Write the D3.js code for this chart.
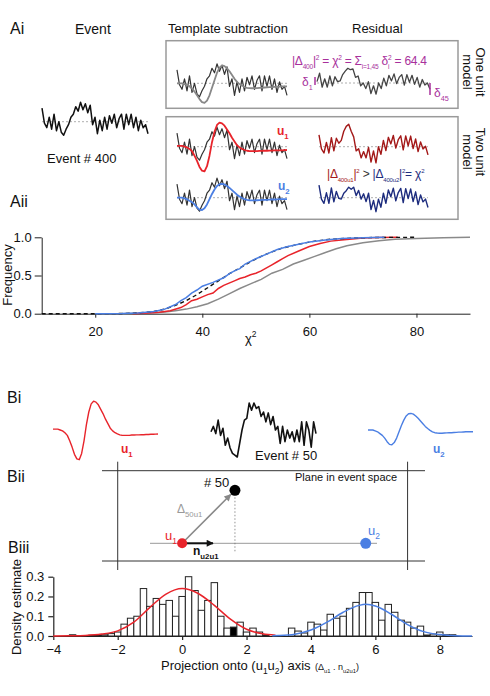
<!DOCTYPE html>
<html>
<head>
<meta charset="utf-8">
<script src="https://cdn.jsdelivr.net/npm/d3@7"></script>
<style>
  body { margin: 0; background: #fff; }
  svg { font-family: Arial, "Liberation Sans", sans-serif; }
  text { white-space: pre; }
</style>
</head>
<body>
<svg id="fig" width="490" height="696"></svg>
<script>
// ---- traces (45 samples each) ----
const event400 = [0.9, -0.1, -0.4, 0.3, -0.5, 0.5, -0.6, 0.0, -0.7, -0.9, -0.5, -0.2, 0.3, 0.5, 1.0, 0.7, 1.3, 0.8, 1.2, 0.6, 1.1, -0.2, 0.3, -0.8, 0.1, -0.6, 0.3, -0.5, 0.4, -0.1, 0.5, -0.4, 0.2, 0.5, -0.5, 0.5, -0.2, 0.5, -0.4, 0.3, -0.6, 0.1, -0.4, -0.2, -0.8];
const templateOne = [0, 0, 0, -0.05, -0.1, -0.2, -0.35, -0.55, -0.8, -1.05, -1.25, -1.3, -1.15, -0.8, -0.3, 0.2, 0.7, 1.05, 1.2, 1.15, 1.0, 0.8, 0.55, 0.3, 0.1, -0.05, -0.15, -0.25, -0.3, -0.32, -0.33, -0.33, -0.32, -0.3, -0.3, -0.28, -0.27, -0.26, -0.25, -0.24, -0.23, -0.22, -0.2, -0.2, -0.2];
const templateU1 = [0.05, 0.05, 0.05, 0, -0.05, -0.15, -0.3, -0.6, -0.95, -1.35, -1.6, -1.65, -1.3, -0.6, 0.3, 1.0, 1.45, 1.6, 1.55, 1.4, 1.15, 0.9, 0.6, 0.35, 0.1, -0.05, -0.15, -0.22, -0.27, -0.3, -0.3, -0.3, -0.3, -0.28, -0.28, -0.27, -0.27, -0.26, -0.26, -0.25, -0.25, -0.24, -0.24, -0.23, -0.22];
const templateU2 = [0, 0, 0, -0.05, -0.1, -0.2, -0.3, -0.45, -0.65, -0.8, -0.82, -0.7, -0.45, -0.1, 0.25, 0.55, 0.78, 0.9, 0.92, 0.88, 0.78, 0.65, 0.5, 0.35, 0.2, 0.08, -0.02, -0.1, -0.15, -0.17, -0.18, -0.18, -0.17, -0.16, -0.15, -0.15, -0.14, -0.13, -0.12, -0.12, -0.11, -0.1, -0.1, -0.1, -0.1];
const residualOne = [0.1, 0.7, -0.3, 0.3, -0.3, 0.5, -0.2, 0.45, 0.1, 0.15, 0.6, 0.85, 1.05, 0.95, 1.0, 0.4, 0.5, -0.2, 0.0, -0.4, 0.1, -0.75, -0.2, -0.8, 0.0, -0.4, 0.35, -0.2, 0.55, 0.15, 0.65, -0.05, 0.4, 0.6, -0.15, 0.6, 0.05, 0.55, -0.1, 0.4, -0.3, 0.25, -0.15, 0.0, -0.45];
const residualU1 = [0.85, -0.15, -0.45, 0.3, -0.45, 0.65, -0.3, 0.6, 0.25, 0.45, 1.1, 1.45, 1.6, 1.1, 0.7, -0.3, -0.15, -0.8, -0.35, -0.8, -0.05, -1.1, -0.3, -1.15, 0.0, -0.55, 0.45, -0.28, 0.67, 0.2, 0.8, -0.1, 0.5, 0.78, -0.22, 0.77, 0.07, 0.76, -0.14, 0.55, -0.35, 0.34, -0.16, 0.03, -0.58];
const residualU2 = [0.9, -0.1, -0.4, 0.35, -0.4, 0.7, -0.3, 0.45, -0.05, -0.1, 0.32, 0.5, 0.75, 0.6, 0.75, 0.15, 0.52, -0.1, 0.28, -0.28, 0.32, -0.85, -0.2, -1.0, -0.1, -0.68, 0.32, -0.4, 0.55, 0.07, 0.68, -0.22, 0.37, 0.66, -0.35, 0.65, -0.06, 0.63, -0.28, 0.42, -0.49, 0.2, -0.3, -0.1, -0.7];
const event50 = [-0.1, 0.2, -0.2, 0.55, -0.3, 0.1, -0.85, -0.45, -1.0, -1.3, -1.4, -1.5, -0.75, 0, 0.55, 0.65, 1.5, 1.1, 1.5, 1.2, 1.3, 0.75, 1.0, 0.45, 0.95, 0.3, 0.75, 0, 0.2, -0.75, 0.2, -0.65, 0, -0.45, -0.1, -0.65, 0, -0.65, 0.45, -0.85, 0.45, 0, -0.95, 0.45, -0.2];

// ---- Aii cumulative distributions of chi^2 ----
const grayChi = [25, 28, 31, 33, 35, 37, 39, 41, 43, 45, 47, 49, 51, 53, 55, 57, 59, 61, 63, 65, 67, 70, 73, 76, 80, 85, 90];
const grayFreq = [0, 0.005, 0.012, 0.022, 0.04, 0.06, 0.09, 0.13, 0.19, 0.26, 0.33, 0.39, 0.45, 0.53, 0.58, 0.65, 0.70, 0.75, 0.80, 0.85, 0.89, 0.93, 0.955, 0.975, 0.985, 0.995, 1.0];
const redChi = [27, 30, 32, 34, 36, 37, 38, 39, 40, 41, 42, 43, 44, 45, 46, 47, 48, 49, 50, 51, 52, 53, 54, 55, 56, 58, 60, 62, 64, 67, 70, 73, 76.5];
const redFreq = [0, 0.01, 0.02, 0.04, 0.08, 0.12, 0.17, 0.19, 0.22, 0.25, 0.27, 0.33, 0.37, 0.40, 0.43, 0.46, 0.48, 0.51, 0.53, 0.56, 0.60, 0.64, 0.68, 0.72, 0.76, 0.82, 0.88, 0.92, 0.95, 0.97, 0.99, 0.998, 1.0];
const blueChi = [20, 25, 28, 31, 33, 35, 36, 37, 38, 39, 40, 42, 44, 45, 46, 47, 48, 50, 52, 54, 56, 58, 60, 63, 66, 70, 74];
const blueFreq = [0, 0.002, 0.01, 0.03, 0.06, 0.12, 0.17, 0.21, 0.27, 0.31, 0.36, 0.41, 0.47, 0.52, 0.56, 0.59, 0.65, 0.72, 0.78, 0.84, 0.88, 0.91, 0.94, 0.965, 0.985, 0.995, 1.0];
const theoChi = [10, 20, 25, 28, 31, 33, 35, 37, 39, 41, 43, 45, 47, 49, 51, 53, 55, 58, 61, 64, 68, 72, 76, 80];
const theoFreq = [0, 0, 0.002, 0.01, 0.03, 0.06, 0.11, 0.17, 0.25, 0.34, 0.43, 0.52, 0.60, 0.68, 0.75, 0.81, 0.86, 0.91, 0.95, 0.975, 0.99, 0.997, 0.999, 1.0];
const chiTicks = [20, 40, 60, 80];
const freqTicks = [0, 0.5, 1.0];

// ---- Biii histogram of projections ----
const binCenters = [-3.4, -2.8, -2.6, -2.4, -2.2, -2.0, -1.8, -1.6, -1.4, -1.2, -1.0, -0.8, -0.6, -0.4, -0.2, 0.0, 0.2, 0.4, 0.6, 0.8, 1.0, 1.2, 1.4, 1.6, 1.8, 2.0, 2.2, 2.4, 2.6, 3.4, 3.6, 3.8, 4.0, 4.2, 4.4, 4.6, 4.8, 5.0, 5.2, 5.4, 5.6, 5.8, 6.0, 6.2, 6.4, 6.6, 6.8, 7.0, 7.2, 7.4, 7.6, 7.8, 8.0, 8.2, 8.4];
const binDensity = [0.006, 0.004, 0.004, 0.006, 0.012, 0.02, 0.06, 0.09, 0.10, 0.24, 0.15, 0.19, 0.16, 0.18, 0.10, 0.20, 0.30, 0.23, 0.13, 0.18, 0.27, 0.10, 0.04, 0.045, 0.07, 0.02, 0.04, 0.02, 0.005, 0.04, 0.025, 0.015, 0.07, 0.06, 0.03, 0.11, 0.09, 0.10, 0.14, 0.17, 0.22, 0.22, 0.17, 0.08, 0.16, 0.12, 0.08, 0.07, 0.04, 0.05, 0.005, 0.01, 0.02, 0.006, 0.006];
const filledBins = [-3.4, 1.6, 8.2, 8.4];
const fitU1X = [-4, -3.5, -3, -2.5, -2, -1.5, -1, -0.5, 0, 0.5, 1, 1.5, 2, 2.5, 2.9];
const fitU1Y = [0, 0.0008, 0.003, 0.01, 0.026, 0.07, 0.145, 0.212, 0.24, 0.215, 0.155, 0.085, 0.034, 0.011, 0.004];
const fitU2X = [2.8, 3.0, 3.5, 4.0, 4.5, 5.0, 5.5, 5.7, 6.0, 6.5, 7.0, 7.5, 8.0, 8.5, 9.0];
const fitU2Y = [0.001, 0.002, 0.009, 0.03, 0.07, 0.12, 0.155, 0.16, 0.152, 0.11, 0.058, 0.022, 0.007, 0.0015, 0.0003];
const projTicks = [-4, -2, 0, 2, 4, 6, 8];
const densityTicks = [0, 0.1, 0.2, 0.3];

// ---- Bii points on the u1-u2 axis ----
const proj50 = 1.64;
const projU1 = 0;
const projU2 = 5.7;

const RED = '#e8242b', BLUE = '#4b7fe3', GRAY = '#8c8c8c', MAG = '#a8309c', DRED = '#a31818', NAVY = '#1d2c7e';

const svg = d3.select('#fig');

function trace(vals, x0, x1, base, k, color, w) {
  const xs = d3.scaleLinear().domain([0, vals.length - 1]).range([x0, x1]);
  const ys = d3.scaleLinear().domain([-1, 1]).range([base + k, base - k]);
  svg.append('path').datum(vals)
    .attr('d', d3.line().x((d, i) => xs(i)).y(d => ys(d)))
    .attr('fill', 'none').attr('stroke', color).attr('stroke-width', w)
    .attr('stroke-linejoin', 'round');
}
function zeroLine(x0, x1, y) {
  svg.append('line').attr('x1', x0).attr('x2', x1).attr('y1', y).attr('y2', y)
    .attr('stroke', '#999').attr('stroke-width', 0.8).attr('stroke-dasharray', '2,2');
}
function label(x, y, str, size, opts) {
  opts = opts || {};
  return svg.append('text').attr('x', x).attr('y', y).attr('font-size', size)
    .attr('fill', opts.fill || '#111').attr('font-weight', opts.weight || 'normal')
    .attr('text-anchor', opts.anchor || 'start').text(str);
}
// text with sub / superscript parts
function rich(x, y, parts, size, color, weight, subScale, spacing) {
  subScale = subScale || 0.65;
  const t = svg.append('text').attr('x', x).attr('y', y).attr('font-size', size)
    .attr('fill', color).attr('font-weight', weight || 'normal')
    .attr('letter-spacing', spacing || null);
  let off = 0;
  parts.forEach(p => {
    const pos = p[1];
    const target = pos === 'sub' ? size * 0.3 : pos === 'sup' ? -size * 0.45 : 0;
    const ts = t.append('tspan').attr('dy', target - off).text(p[0]);
    if (pos) ts.attr('font-size', size * subScale);
    if (p[2]) ts.attr('fill', p[2]);
    if (p[3]) ts.attr('dx', p[3]);
    off = target;
  });
  return t;
}

// ===================== Ai =====================
label(10, 34, 'Ai', 16);
label(75, 34, 'Event', 14);
label(168, 33, 'Template subtraction', 13);
label(352, 33, 'Residual', 13);

zeroLine(42, 148, 121.7);
trace(event400, 42, 148, 121.7, 15, '#111', 1.5);
label(47, 163, 'Event # 400', 13);

svg.append('rect').attr('x', 166).attr('y', 40.7).attr('width', 292).attr('height', 67.6)
  .attr('fill', 'none').attr('stroke', '#9a9a9a').attr('stroke-width', 1.5);
svg.append('rect').attr('x', 166).attr('y', 116.7).attr('width', 292).attr('height', 102.6)
  .attr('fill', 'none').attr('stroke', '#9a9a9a').attr('stroke-width', 1.5);

[['One unit', 476, 72], ['model', 463, 72], ['Two unit', 476, 152], ['model', 463, 152]].forEach(d => {
  svg.append('text').attr('transform', `translate(${d[1]},${d[2]}) rotate(90)`)
    .attr('text-anchor', 'middle').attr('font-size', 13).attr('fill', '#111').text(d[0]);
});

// one-unit model
zeroLine(177, 287, 83.3);
trace(event400, 177, 287, 83.3, 15, '#333', 1.2);
trace(templateOne, 177, 287, 83.3, 15, '#888', 1.8);
zeroLine(317, 430, 83);
trace(residualOne, 317, 430, 83, 14, '#444', 1.3);
rich(292, 65, [['|Δ'], ['400', 'sub'], ['|'], ['2', 'sup'], [' = χ'], ['2', 'sup'], [' = Σ'], ['i=1,45', 'sub'], [' δ'], ['i', 'sub'], ['2', 'sup', null, -1], [' = 64.4']], 12, MAG, 'normal', 0.55, -0.25);
rich(302, 86, [['δ'], ['1', 'sub']], 12, MAG, 'normal', 0.6);
svg.append('line').attr('x1', 315).attr('x2', 315).attr('y1', 77).attr('y2', 85).attr('stroke', MAG).attr('stroke-width', 1.5);
svg.append('line').attr('x1', 430).attr('x2', 430).attr('y1', 83).attr('y2', 95).attr('stroke', MAG).attr('stroke-width', 1.5);
rich(434, 97, [['δ'], ['45', 'sub']], 12, MAG, 'normal', 0.6);

// two-unit model
zeroLine(177, 287, 146.7);
trace(event400, 177, 287, 146.7, 15, '#333', 1.2);
trace(templateU1, 177, 287, 146.7, 15, RED, 1.8);
rich(277, 135, [['u'], ['1', 'sub']], 12, RED, 'bold');
zeroLine(319, 428, 146.7);
trace(residualU1, 319, 428, 146.7, 14, DRED, 1.4);

zeroLine(177, 287, 197.7);
trace(event400, 177, 287, 197.7, 15, '#333', 1.2);
trace(templateU2, 177, 287, 197.7, 15, BLUE, 1.8);
rich(278, 190, [['u'], ['2', 'sub']], 12, BLUE, 'bold');
zeroLine(319, 428, 197.7);
trace(residualU2, 319, 428, 197.7, 14, NAVY, 1.4);

rich(327, 178, [['|Δ', null, DRED], ['400u', 'sub', DRED], ['1', 'sub', DRED], ['|', null, DRED], ['2', 'sup', DRED], [' > ', null, '#333'],
  ['|Δ', null, NAVY], ['400u', 'sub', NAVY], ['2', 'sub', NAVY], ['|', null, NAVY], ['2', 'sup', NAVY], ['= χ', null, NAVY], ['2', 'sup', NAVY]], 12, NAVY, 'normal', 0.5, -0.2);

// ===================== Aii =====================
label(10, 207, 'Aii', 16);
const ax = d3.scaleLinear().domain([10, 90]).range([41.7, 470]);
const ay = d3.scaleLinear().domain([0, 1]).range([313.7, 237.3]);

const gA = svg.append('g');
gA.append('g').attr('transform', 'translate(0,313.7)')
  .call(d3.axisBottom(ax).tickValues(chiTicks).tickSize(4).tickSizeOuter(0).tickPadding(9))
  .call(g => g.selectAll('text').attr('font-size', 13).attr('font-family', null).attr('fill', '#111'));
gA.append('g').attr('transform', 'translate(41.7,0)')
  .call(d3.axisLeft(ay).tickValues(freqTicks).tickFormat(d3.format('.1f')).tickSize(7).tickSizeOuter(0).tickPadding(3))
  .call(g => g.selectAll('text').attr('font-size', 13).attr('font-family', null).attr('fill', '#111'));
gA.selectAll('.domain, .tick line').attr('stroke', '#222');

const cdfLine = d3.line().x(d => ax(d[0])).y(d => ay(d[1]));
const cdf = (xs, ys, color, w, dash) => {
  gA.append('path').datum(d3.zip(xs, ys)).attr('d', cdfLine)
    .attr('fill', 'none').attr('stroke', color).attr('stroke-width', w)
    .attr('stroke-dasharray', dash || null);
};
cdf(grayChi, grayFreq, '#8a8a8a', 1.5);
cdf(redChi, redFreq, RED, 1.5);
cdf(theoChi, theoFreq, '#111', 1.4, '4,3');
cdf(blueChi, blueFreq, BLUE, 1.5);

svg.append('text').attr('transform', 'translate(12,275) rotate(-90)').attr('text-anchor', 'middle')
  .attr('font-size', 13).attr('fill', '#111').text('Frequency');
rich(245, 343, [['χ'], ['2', 'sup']], 13, '#111');

// ===================== Bi =====================
label(7, 403, 'Bi', 16);
trace(templateU1, 53, 158, 430, 18, RED, 1.4);
rich(121, 453, [['u'], ['1', 'sub']], 12, RED, 'bold');
trace(event50, 211, 316, 430, 18, '#111', 1.6);
label(255, 460, 'Event # 50', 13);
trace(templateU2, 368, 473, 430, 18, BLUE, 1.4);
rich(433, 453, [['u'], ['2', 'sub']], 12, BLUE, 'bold');

// ===================== Bii =====================
label(7, 482, 'Bii', 16);
const hx = d3.scaleLinear().domain([-4, 9]).range([53.3, 472]);
const hy = d3.scaleLinear().domain([0, 0.3]).range([636, 576.7]);

const planeY = 543.3;
[[102, 425, 470.7, 470.7], [102, 425, 561, 561], [hx(-2), hx(-2), 461.7, 570], [hx(7), hx(7), 461.7, 570]].forEach(l => {
  svg.append('line').attr('x1', l[0]).attr('x2', l[1]).attr('y1', l[2]).attr('y2', l[3])
    .attr('stroke', '#333').attr('stroke-width', 1);
});
label(295, 481, 'Plane in event space', 11);

const defs = svg.append('defs');
[['arrG', '#888'], ['arrK', '#111']].forEach(a => {
  defs.append('marker').attr('id', a[0]).attr('viewBox', '0 0 10 10').attr('refX', 9).attr('refY', 5)
    .attr('orient', 'auto').attr('markerUnits', 'userSpaceOnUse')
    .attr('markerWidth', 10).attr('markerHeight', 7)
    .append('path').attr('d', 'M0,0 L10,5 L0,10 z').attr('fill', a[1]);
});

svg.append('line').attr('x1', 150).attr('x2', 377).attr('y1', planeY).attr('y2', planeY)
  .attr('stroke', '#999').attr('stroke-width', 1);
svg.append('line').attr('x1', hx(proj50)).attr('x2', hx(proj50)).attr('y1', planeY - 53).attr('y2', planeY + 8.4)
  .attr('stroke', '#777').attr('stroke-width', 0.8).attr('stroke-dasharray', '1.5,2');
const p50 = [hx(proj50), planeY - 53];
const pu1 = [hx(projU1), planeY];
const ang = Math.atan2(p50[1] - pu1[1], p50[0] - pu1[0]);
svg.append('line').attr('x1', pu1[0]).attr('y1', pu1[1])
  .attr('x2', p50[0] - 6 * Math.cos(ang)).attr('y2', p50[1] - 6 * Math.sin(ang))
  .attr('stroke', '#888').attr('stroke-width', 1.6).attr('marker-end', 'url(#arrG)');
svg.append('line').attr('x1', pu1[0]).attr('y1', planeY).attr('x2', 213).attr('y2', planeY)
  .attr('stroke', '#111').attr('stroke-width', 2).attr('marker-end', 'url(#arrK)');
svg.append('circle').attr('cx', p50[0]).attr('cy', p50[1]).attr('r', 5.5).attr('fill', '#000');
svg.append('circle').attr('cx', pu1[0]).attr('cy', planeY).attr('r', 5).attr('fill', RED);
svg.append('circle').attr('cx', hx(projU2)).attr('cy', planeY).attr('r', 5.5).attr('fill', BLUE);
label(204, 487, '# 50', 13);
rich(177, 513, [['Δ'], ['50u', 'sub'], ['1', 'sub']], 12, '#999');
rich(165, 540, [['u'], ['1', 'sub']], 13, RED);
rich(368, 535, [['u'], ['2', 'sub']], 13, BLUE);
rich(193, 555, [['n'], ['u', 'sub'], ['2', 'sub'], ['u', 'sub'], ['1', 'sub']], 12, '#111', 'bold');

// ===================== Biii =====================
label(8, 553, 'Biii', 16);
const gH = svg.append('g');
gH.selectAll('rect').data(d3.zip(binCenters, binDensity)).join('rect')
  .attr('x', d => hx(d[0] - 0.1)).attr('width', d => hx(d[0] + 0.1) - hx(d[0] - 0.1))
  .attr('y', d => hy(d[1])).attr('height', d => hy(0) - hy(d[1]))
  .attr('fill', d => filledBins.includes(d[0]) ? '#000' : '#fff')
  .attr('stroke', '#222').attr('stroke-width', 1);

gH.append('g').attr('transform', 'translate(0,636)')
  .call(d3.axisBottom(hx).tickValues(projTicks).tickSize(4).tickSizeOuter(0).tickPadding(5))
  .call(g => g.selectAll('text').attr('font-size', 13).attr('font-family', null).attr('fill', '#111'));
gH.append('g').attr('transform', 'translate(53.3,0)')
  .call(d3.axisLeft(hy).tickValues(densityTicks).tickFormat(d3.format('.1f')).tickSize(5).tickSizeOuter(0).tickPadding(4))
  .call(g => g.selectAll('text').attr('font-size', 13).attr('font-family', null).attr('fill', '#111'));
gH.selectAll('.domain, .tick line').attr('stroke', '#222').attr('stroke-width', 1.2);

const fitLine = d3.line().x(d => hx(d[0])).y(d => hy(d[1])).curve(d3.curveMonotoneX);
gH.append('path').datum(d3.zip(fitU1X, fitU1Y)).attr('d', fitLine)
  .attr('fill', 'none').attr('stroke', RED).attr('stroke-width', 1.5);
gH.append('path').datum(d3.zip(fitU2X, fitU2Y)).attr('d', fitLine)
  .attr('fill', 'none').attr('stroke', BLUE).attr('stroke-width', 1.5);

svg.append('text').attr('transform', 'translate(21,607) rotate(-90)').attr('text-anchor', 'middle')
  .attr('font-size', 13).attr('fill', '#111').text('Density estimate');
rich(161, 670, [['Projection onto (u'], ['1', 'sub'], ['u', null, null], ['2', 'sub'], [') axis']], 13, '#111');
rich(315, 670, [['(Δ'], ['u1', 'sub'], [' . ', null, null], ['n', null], ['u2u1', 'sub'], [')']], 9, '#111');
</script>
</body>
</html>
